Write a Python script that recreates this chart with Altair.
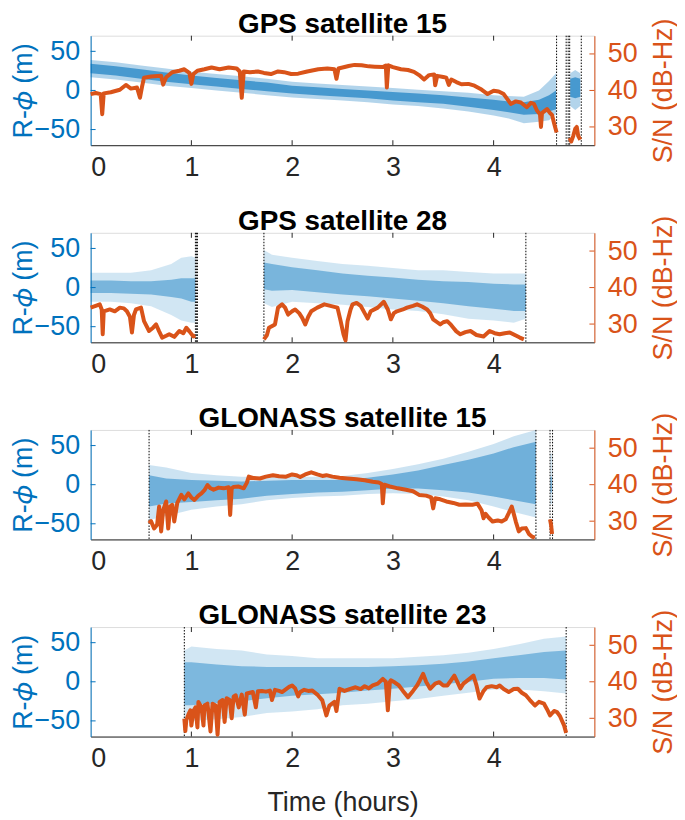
import altair as alt
import pandas as pd

BLUE = "#0072BD"
ORANGE = "#D95319"
DARK = "#262626"
FONT = "Liberation Sans"
W, H = 506, 110

TITLES = ["GPS satellite 15", "GPS satellite 28", "GLONASS satellite 15", "GLONASS satellite 23"]
X_TICKS = [0, 1, 2, 3, 4]
X_INNER_TICKS = [1, 2, 3, 4]
L_TICKS = [-50, 0, 50]
R_TICKS = [30, 40, 50]

# ---- R-phi scatter envelope (t, dense_lo, dense_hi, sparse_lo, sparse_hi) ----
P1_BAND_A = [(0, 22, 34, 17, 39), (0.25, 19, 31, 14, 36), (0.5, 15, 27, 10, 32), (0.75, 11, 23, 6, 28),
             (1.0, 8, 19, 3, 24), (1.25, 5, 16, 0, 21), (1.5, 2, 13, -3, 18), (1.75, -1, 10, -6, 15),
             (2.0, -4, 6, -9, 11), (2.25, -6, 4, -11, 9), (2.5, -8, 2, -13, 7), (2.75, -10, 0, -15, 5),
             (3.0, -13, -2, -18, 3), (3.25, -15, -4, -20, 1), (3.5, -17, -6, -23, -1), (3.75, -21, -9, -27, -3),
             (4.0, -25, -12, -32, -6), (4.15, -28, -14, -36, -7), (4.3, -31, -15, -42, -8),
             (4.45, -30, -12, -40, 0), (4.55, -27, -6, -38, 12), (4.62, -24, 0, -30, 22)]
P1_BAND_B = [(4.76, -8, 15, -20, 22), (4.81, -10, 17, -25, 26), (4.86, -8, 15, -20, 22)]

P2_BAND_A = [(0, -7, 9, -18, 19), (0.2, -7, 9, -18, 19), (0.4, -8, 8, -20, 19), (0.6, -9, 8, -24, 22),
             (0.8, -12, 10, -35, 30), (0.9, -14, 12, -42, 38), (1.0, -18, 12, -45, 40), (1.04, -18, 12, -45, 38)]
P2_BAND_B = [(1.72, -2, 32, -20, 48), (1.8, -4, 30, -25, 42), (2.0, -3, 26, -18, 38), (2.25, -6, 22, -20, 34),
             (2.5, -9, 18, -22, 30), (2.75, -11, 15, -25, 28), (3.0, -14, 13, -28, 25), (3.25, -17, 10, -30, 22),
             (3.5, -20, 8, -34, 22), (3.75, -24, 7, -40, 20), (4.0, -27, 5, -42, 18), (4.2, -30, 4, -45, 18),
             (4.32, -30, 4, -40, 18)]

P3_BAND_A = [(0.58, -28, 12, -45, 25), (0.75, -24, 8, -40, 22), (1.0, -22, 6, -32, 15), (1.25, -20, 5, -28, 12),
             (1.5, -18, 4, -25, 10), (1.75, -14, 5, -20, 10), (2.0, -12, 6, -17, 10), (2.25, -10, 6, -15, 10),
             (2.5, -9, 6, -14, 11), (2.75, -7, 9, -12, 15), (3.0, -5, 13, -11, 20), (3.25, -5, 18, -12, 26),
             (3.5, -7, 25, -15, 33), (3.75, -10, 32, -20, 42), (4.0, -15, 40, -28, 52), (4.2, -20, 48, -35, 62),
             (4.42, -25, 55, -42, 70)]
P3_BAND_B = [(4.562, -10, 10, -25, 40), (4.578, -10, 10, -25, 40)]

P4_BAND_A = [(0.93, -30, 25, -48, 40), (1.0, -30, 25, -50, 45), (1.25, -27, 22, -48, 42), (1.5, -25, 20, -45, 40),
             (1.75, -21, 19, -40, 35), (2.0, -18, 19, -38, 33), (2.25, -16, 19, -35, 30), (2.5, -14, 19, -30, 30),
             (2.75, -11, 19, -28, 30), (3.0, -9, 20, -25, 30), (3.25, -6, 21, -22, 32), (3.5, -3, 23, -18, 34),
             (3.75, 0, 26, -14, 37), (4.0, 4, 30, -10, 42), (4.25, 5, 34, -10, 48), (4.5, 5, 38, -12, 55),
             (4.72, 3, 40, -15, 58)]

# ---- S/N (t, dB-Hz) ----
P1_SN_A = [(0, 39), (0.05, 39.3), (0.1, 39), (0.115, 33.5), (0.13, 39.2), (0.2, 39.5), (0.29, 40.2), (0.35, 41.5),
           (0.4, 40.5), (0.46, 40.8), (0.49, 38), (0.51, 41), (0.53, 43.5), (0.6, 43.8), (0.7, 44), (0.72, 41.6),
           (0.75, 43.6), (0.81, 45), (0.88, 45.4), (0.93, 45.8), (0.98, 44.8), (1.0, 41.8), (1.02, 44.5),
           (1.06, 45.4), (1.13, 45.8), (1.2, 46.3), (1.28, 45.8), (1.37, 46.3), (1.45, 46), (1.48, 45.2),
           (1.5, 38), (1.52, 45.2), (1.58, 45), (1.66, 45.2), (1.72, 44.8), (1.79, 44.5), (1.86, 45.2),
           (1.92, 45), (1.99, 44.5), (2.06, 44.6), (2.15, 45.2), (2.26, 45.8), (2.35, 46), (2.42, 45.8),
           (2.44, 43.2), (2.46, 46), (2.56, 46.7), (2.62, 47), (2.69, 46.9), (2.76, 46.6), (2.82, 46.5),
           (2.9, 46.4), (2.93, 46.8), (2.94, 40.8), (2.955, 46.9), (3.0, 46.4), (3.08, 45.8), (3.15, 45.6),
           (3.21, 45.1), (3.26, 44.2), (3.31, 43), (3.36, 44.2), (3.41, 44.4), (3.42, 41.4), (3.44, 44),
           (3.5, 43.7), (3.53, 43.5), (3.555, 41.5), (3.58, 43), (3.63, 42.3), (3.68, 41.7), (3.75, 41.8),
           (3.81, 41.3), (3.87, 40.4), (3.94, 39), (4.0, 39.9), (4.05, 39.7), (4.1, 39), (4.14, 37.5),
           (4.17, 36.3), (4.22, 37), (4.27, 36.7), (4.33, 35.4), (4.37, 36.6), (4.4, 36.3), (4.43, 34.5),
           (4.46, 33.5), (4.47, 30), (4.48, 33.8), (4.53, 34.9), (4.56, 33.8), (4.58, 33.3), (4.6, 31),
           (4.625, 28.5)]
P1_SN_B = [(4.755, 27), (4.77, 26), (4.79, 27.5), (4.81, 29.5), (4.825, 30), (4.84, 27.5), (4.86, 26.5)]

P2_SN_A = [(0, 34.5), (0.05, 35), (0.09, 35.4), (0.11, 34), (0.12, 27.2), (0.13, 33.5), (0.19, 34), (0.24, 33.5),
           (0.29, 34.5), (0.33, 34.3), (0.36, 33.5), (0.39, 32), (0.41, 27.7), (0.43, 32.5), (0.45, 34),
           (0.5, 34.5), (0.53, 30.8), (0.58, 28.1), (0.62, 29), (0.65, 29.9), (0.68, 28), (0.71, 26.3),
           (0.75, 26.8), (0.78, 27.2), (0.83, 26.5), (0.88, 28.1), (0.92, 27.5), (0.95, 29), (0.98, 28),
           (1.02, 26.6), (1.04, 26.8)]
P2_SN_B = [(1.72, 25.8), (1.75, 27), (1.77, 29), (1.83, 29.9), (1.86, 34.5), (1.9, 35.4), (1.93, 34.5),
           (1.96, 32.6), (2.0, 33.5), (2.03, 34), (2.07, 33), (2.1, 31.7), (2.13, 29.9), (2.16, 32), (2.19, 33.5),
           (2.25, 34.5), (2.32, 35.4), (2.38, 35), (2.45, 34.5), (2.48, 31), (2.51, 27.2), (2.53, 25.5),
           (2.55, 30.8), (2.58, 34), (2.6, 35.4), (2.64, 35.8), (2.68, 35), (2.72, 33), (2.75, 31.5),
           (2.78, 33.5), (2.85, 34.5), (2.91, 36.1), (2.95, 34), (2.98, 31.3), (3.01, 33), (3.04, 33.5),
           (3.1, 34), (3.14, 34.5), (3.2, 35), (3.24, 35.4), (3.29, 34.8), (3.34, 34), (3.37, 33), (3.4, 31.3),
           (3.44, 30.5), (3.47, 29.9), (3.5, 30.5), (3.54, 30.8), (3.57, 30), (3.6, 29), (3.63, 28),
           (3.67, 27.2), (3.72, 27.8), (3.77, 28.1), (3.83, 27), (3.9, 26.6), (3.96, 28.1), (4.01, 27.5),
           (4.06, 27.2), (4.11, 27.5), (4.16, 27.7), (4.21, 27), (4.26, 26.3), (4.3, 25.8)]

P3_SN_A = [(0.58, 29.4), (0.6, 30), (0.63, 28), (0.66, 29), (0.68, 34), (0.7, 27.2), (0.72, 33), (0.75, 35.4),
           (0.77, 28), (0.79, 34), (0.81, 34.5), (0.83, 29.9), (0.86, 35), (0.9, 37.2), (0.93, 36), (0.97, 37.6),
           (1.0, 36.5), (1.03, 35.8), (1.07, 37), (1.1, 37.6), (1.13, 38.5), (1.16, 39.9), (1.19, 39),
           (1.22, 38.6), (1.27, 39.2), (1.32, 39), (1.37, 39.3), (1.385, 31.7), (1.4, 39), (1.42, 39.4),
           (1.47, 39.5), (1.52, 39), (1.55, 40.5), (1.57, 42.2), (1.62, 41.8), (1.68, 41.7), (1.74, 42.2),
           (1.81, 42.6), (1.87, 42.3), (1.94, 42.2), (2.0, 42.8), (2.04, 42.6), (2.08, 42.1), (2.13, 42.8),
           (2.19, 43.4), (2.25, 42.8), (2.3, 42.4), (2.34, 42.6), (2.4, 42.2), (2.47, 41.9), (2.55, 41.7),
           (2.64, 41.5), (2.72, 41.2), (2.8, 40.8), (2.86, 40.6), (2.89, 40.2), (2.9, 34.9), (2.915, 40),
           (2.97, 39.5), (3.05, 39), (3.13, 38.6), (3.2, 38.2), (3.26, 37.2), (3.33, 37), (3.38, 36.5),
           (3.4, 33.5), (3.42, 36.3), (3.47, 36), (3.53, 35.4), (3.6, 35), (3.66, 34.5), (3.72, 34.6),
           (3.79, 34.5), (3.84, 34.8), (3.88, 33), (3.9, 30.8), (3.92, 32), (3.95, 31), (3.99, 29.9),
           (4.04, 30.2), (4.08, 29.9), (4.12, 30.5), (4.15, 32.2), (4.18, 34), (4.2, 32), (4.22, 29.9),
           (4.25, 27.2), (4.28, 28), (4.32, 28.1), (4.35, 26.5), (4.38, 25.8), (4.41, 25.5)]
P3_SN_B = [(4.56, 30.5), (4.57, 29), (4.58, 26.5)]

P4_SN_A = [(0.93, 29.9), (0.94, 26.5), (0.95, 29.5), (0.97, 31), (0.99, 32.2), (1.0, 28), (1.02, 32), (1.04, 33),
           (1.06, 27.5), (1.07, 34.5), (1.1, 33), (1.12, 28), (1.13, 33.5), (1.16, 34), (1.19, 26.4), (1.21, 34),
           (1.24, 33.5), (1.26, 25.5), (1.28, 34.5), (1.31, 35), (1.33, 29), (1.35, 35.5), (1.38, 35), (1.4, 30),
           (1.42, 36), (1.44, 36.3), (1.47, 33), (1.5, 36.5), (1.53, 31), (1.55, 36.8), (1.58, 37), (1.61, 37.2),
           (1.64, 33), (1.66, 37.4), (1.7, 37.5), (1.74, 37.3), (1.78, 37.6), (1.8, 35), (1.83, 37.8),
           (1.87, 37.5), (1.9, 37.2), (1.94, 38), (1.97, 38.6), (2.0, 39), (2.03, 38.2), (2.06, 36), (2.08, 37.2),
           (2.12, 37.8), (2.16, 37.5), (2.2, 37.6), (2.25, 36.5), (2.3, 34.9), (2.34, 30.8), (2.37, 33.5),
           (2.42, 34.5), (2.44, 32), (2.47, 38.1), (2.52, 37.5), (2.57, 38), (2.63, 38.5), (2.68, 38),
           (2.72, 38.8), (2.76, 38.2), (2.8, 39), (2.85, 39.5), (2.9, 40.8), (2.93, 40), (2.95, 32.2), (2.97, 40),
           (2.98, 40.4), (3.02, 39.8), (3.06, 39), (3.1, 37.5), (3.15, 35.8), (3.2, 37.5), (3.24, 39),
           (3.27, 40.5), (3.3, 42.2), (3.33, 40), (3.37, 38.1), (3.42, 39.5), (3.46, 39.9), (3.5, 39), (3.54, 39),
           (3.58, 40.5), (3.61, 41.7), (3.64, 40), (3.67, 38.2), (3.7, 39.5), (3.76, 40.8), (3.8, 41.7),
           (3.83, 39), (3.86, 35.4), (3.9, 37.5), (3.93, 38.5), (3.98, 38.8), (4.03, 38.5), (4.06, 39), (4.1, 38),
           (4.15, 37.2), (4.2, 38), (4.24, 38.1), (4.28, 37), (4.32, 36.3), (4.36, 35), (4.41, 33.5),
           (4.45, 34.5), (4.5, 34), (4.53, 32.5), (4.56, 30.8), (4.6, 32), (4.63, 31.7), (4.66, 30.5), (4.7, 28),
           (4.72, 26)]

# ---- cycle-slip markers (hours) ----
P1_SLIPS = [4.625, 4.72, 4.74, 4.755, 4.87]
P2_SLIPS = [1.04, 1.05, 1.06, 1.72, 4.32]
P3_SLIPS = [0.58, 4.42, 4.56, 4.585]
P4_SLIPS = [0.93, 4.72]


def band_df(segments):
    rows = []
    for si, seg in enumerate(segments):
        for (t, il, ih, ol, oh) in seg:
            rows.append(dict(t=t, lo=ol, hi=oh, kind="outer", grp=f"s{si}"))
            rows.append(dict(t=t, lo=il, hi=ih, kind="inner", grp=f"s{si}"))
    return pd.DataFrame(rows)


def sn_df(segments):
    rows = []
    for si, seg in enumerate(segments):
        for (t, v) in seg:
            rows.append(dict(t=t, sn=v, seg=f"s{si}"))
    return pd.DataFrame(rows)


def make_panel(title, band_segs, sn_segs, slips, last, op_in, op_out):
    band = band_df(band_segs)
    sn = sn_df(sn_segs)
    xs = alt.Scale(domain=[0, 5], nice=False, zero=False)
    ls = alt.Scale(domain=[-70, 70], nice=False, zero=False)
    rs = alt.Scale(domain=[25, 55], nice=False, zero=False)

    xaxis = alt.Axis(values=X_TICKS, ticks=False, tickSize=0, labelPadding=9, labelFontSize=27,
                     labelColor=DARK, domainColor=DARK, grid=False, labelFont=FONT,
                     title="Time (hours)" if last else None, titleFontSize=27, titleFontWeight="normal",
                     titleColor=DARK, titleFont=FONT, titlePadding=18)
    laxis = alt.Axis(orient="left", values=L_TICKS, ticks=False, tickSize=0, labelPadding=11,
                     labelFontSize=27, labelColor=BLUE, domainColor=BLUE, grid=False, labelFont=FONT,
                     title="R-\U0001D719 (m)", titleFontSize=27, titleFontWeight="normal", titleColor=BLUE,
                     titleFont=FONT, titlePadding=-3)
    raxis = alt.Axis(orient="right", values=R_TICKS, ticks=False, tickSize=0, labelPadding=13,
                     labelFontSize=27, labelColor=ORANGE, domainColor=ORANGE, grid=False, labelFont=FONT,
                     title="S/N (dB-Hz)", titleFontSize=27, titleFontWeight="normal", titleColor=ORANGE,
                     titleFont=FONT, titlePadding=13, titleAngle=270, titleBaseline="top")

    bb = alt.Chart(band)
    outer = bb.transform_filter(alt.datum.kind == "outer").mark_area(color=BLUE, opacity=op_out).encode(
        x=alt.X("t:Q", scale=xs, axis=xaxis),
        y=alt.Y("lo:Q", scale=ls, axis=laxis),
        y2="hi:Q",
        detail="grp:N",
    )
    inner = bb.transform_filter(alt.datum.kind == "inner").mark_area(color=BLUE, opacity=op_in).encode(
        x=alt.X("t:Q", scale=xs, axis=xaxis),
        y=alt.Y("lo:Q", scale=ls, axis=laxis),
        y2="hi:Q",
        detail="grp:N",
    )
    lticks = alt.Chart(pd.DataFrame({"lo": L_TICKS})).mark_rule(color=BLUE, strokeWidth=1).encode(
        x=alt.value(0), x2=alt.value(5), y=alt.Y("lo:Q", scale=ls, axis=laxis))
    left = alt.layer(outer, inner, lticks)

    line = alt.Chart(sn).mark_line(color=ORANGE, strokeWidth=4, strokeJoin="round").encode(
        x=alt.X("t:Q", scale=xs, axis=xaxis),
        y=alt.Y("sn:Q", scale=rs, axis=raxis),
        detail="seg:N",
    )
    rticks = alt.Chart(pd.DataFrame({"sn": R_TICKS})).mark_rule(color=ORANGE, strokeWidth=1).encode(
        x=alt.value(W - 5), x2=alt.value(W), y=alt.Y("sn:Q", scale=rs, axis=raxis))
    right = alt.layer(line, rticks)

    rules = alt.Chart(pd.DataFrame({"t": slips})).mark_rule(
        color="black", strokeDash=[1.5, 1.5], strokeWidth=1).encode(x=alt.X("t:Q", scale=xs, axis=xaxis))

    xt = alt.Chart(pd.DataFrame({"t": X_INNER_TICKS}))
    xt_top = xt.mark_rule(color=DARK, strokeWidth=1).encode(
        x=alt.X("t:Q", scale=xs, axis=xaxis), y=alt.value(0), y2=alt.value(5))
    xt_bot = xt.mark_rule(color=DARK, strokeWidth=1).encode(
        x=alt.X("t:Q", scale=xs, axis=xaxis), y=alt.value(H - 5), y2=alt.value(H))

    return alt.layer(left, rules, right, xt_top, xt_bot).resolve_scale(y="independent").properties(
        width=W, height=H,
        title=alt.TitleParams(title, fontSize=28, fontWeight="bold", font=FONT, color="black",
                              anchor="middle", frame="group", offset=-21),
    )


panels = [
    make_panel(TITLES[0], [P1_BAND_A, P1_BAND_B], [P1_SN_A, P1_SN_B], P1_SLIPS, False, 0.6, 0.3),
    make_panel(TITLES[1], [P2_BAND_A, P2_BAND_B], [P2_SN_A, P2_SN_B], P2_SLIPS, False, 0.42, 0.18),
    make_panel(TITLES[2], [P3_BAND_A, P3_BAND_B], [P3_SN_A, P3_SN_B], P3_SLIPS, False, 0.45, 0.2),
    make_panel(TITLES[3], [P4_BAND_A], [P4_SN_A], P4_SLIPS, True, 0.4, 0.18),
]

chart = alt.vconcat(*panels, spacing=26).properties(
    padding={"left": 0, "top": 0, "right": 0, "bottom": 0}).configure_view(
    stroke=DARK, strokeWidth=1).configure(font=FONT)

chart.save("out.html", embed_options={"renderer": "svg", "actions": False})
